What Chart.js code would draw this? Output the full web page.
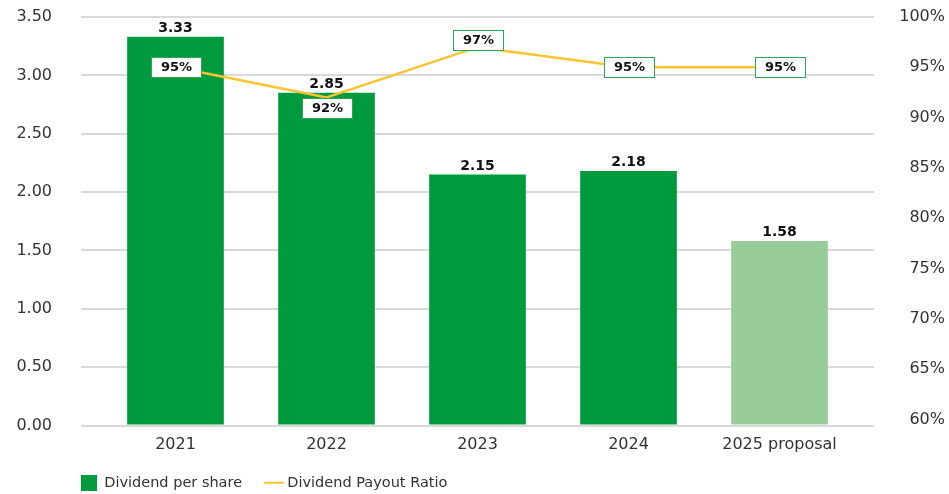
<!DOCTYPE html>
<html>
<head>
<meta charset="utf-8">
<script src="https://cdn.jsdelivr.net/npm/chart.js@4.4.0/dist/chart.umd.min.js"></script>
<style>
  html, body { margin: 0; padding: 0; background: #fff; }
  #wrap { width: 949px; height: 494px; position: relative; }
</style>
</head>
<body>
<div id="wrap"><canvas id="c"></canvas></div>
<script>
const categories = ['2021', '2022', '2023', '2024', '2025 proposal'];
const dividendPerShare = [3.33, 2.85, 2.15, 2.18, 1.58];
const payoutRatio = [95, 92, 97, 95, 95];
const leftTicks = [0, 0.5, 1, 1.5, 2, 2.5, 3, 3.5];
const rightTicks = [60, 65, 70, 75, 80, 85, 90, 95, 100];

const GREEN = '#009a3e';
const LIGHT_GREEN = '#99cc9b';
const YELLOW = '#fdc431';
const GRID = '#d9d9d9';
const FONT = '"DejaVu Sans", sans-serif';

function legendIcon(kind) {
  const cv = document.createElement('canvas');
  if (kind === 'rect') {
    cv.width = 16; cv.height = 16;
    const c = cv.getContext('2d');
    c.fillStyle = GREEN; c.fillRect(0, 0, 16, 16);
  } else {
    cv.width = 24; cv.height = 16;
    const c = cv.getContext('2d');
    c.fillStyle = YELLOW; c.fillRect(4, 7, 20, 2);
  }
  return cv;
}

const labelPlugin = {
  id: 'valueLabels',
  afterLayout(chart) {
    if (chart.legend) {
      chart.legend.left = 59;
    }
  },
  afterDatasetsDraw(chart, args, opts) {
    const ctx = chart.ctx;
    ctx.save();
    const barMeta = chart.getDatasetMeta(0);
    ctx.font = 'bold 14px ' + FONT;
    ctx.fillStyle = '#111';
    ctx.textAlign = 'center';
    ctx.textBaseline = 'alphabetic';
    barMeta.data.forEach((el, i) => {
      ctx.fillText(dividendPerShare[i].toFixed(2), el.x, el.y - 5);
    });
    const lineMeta = chart.getDatasetMeta(1);
    const offsets = opts.lineOffsets;
    lineMeta.data.forEach((el, i) => {
      const w = 51, h = 21;
      const cx = el.x + 1, cy = el.y + offsets[i];
      const x0 = Math.round(cx - w / 2), y0 = Math.round(cy - h / 2);
      ctx.fillStyle = '#fff';
      ctx.fillRect(x0, y0, w, h);
      ctx.strokeStyle = '#2ea455';
      ctx.lineWidth = 1;
      ctx.strokeRect(x0 + 0.5, y0 + 0.5, w - 1, h - 1);
      ctx.fillStyle = '#111';
      ctx.font = 'bold 13px ' + FONT;
      ctx.textBaseline = 'middle';
      ctx.fillText(payoutRatio[i] + '%', x0 + w / 2, y0 + h / 2 + 0.5);
    });
    ctx.restore();
  }
};

function noPad(s) { s.paddingTop = 0; s.paddingBottom = 0; }

new Chart(document.getElementById('c'), {
  data: {
    labels: categories,
    datasets: [
      {
        type: 'bar',
        label: 'Dividend per share',
        data: dividendPerShare,
        backgroundColor: [GREEN, GREEN, GREEN, GREEN, LIGHT_GREEN],
        barPercentage: 0.8,
        categoryPercentage: 0.8,
        yAxisID: 'y',
        pointStyle: legendIcon('rect'),
        order: 2
      },
      {
        type: 'line',
        label: 'Dividend Payout Ratio',
        data: payoutRatio,
        borderColor: YELLOW,
        backgroundColor: YELLOW,
        borderWidth: 2.5,
        pointRadius: 0,
        tension: 0,
        yAxisID: 'y1',
        pointStyle: legendIcon('line'),
        order: 1
      }
    ]
  },
  options: {
    responsive: true,
    maintainAspectRatio: false,
    animation: false,
    layout: { padding: { top: 17, bottom: -6, left: 0, right: 4 } },
    plugins: {
      legend: {
        position: 'bottom',
        align: 'start',
        labels: {
          usePointStyle: true,
          pointStyleWidth: 16,
          boxHeight: 16,
          font: { family: FONT, size: 14.5 },
          color: '#333',
          padding: 22,
          sort: (a, b) => a.datasetIndex - b.datasetIndex
        }
      },
      tooltip: { enabled: false },
      valueLabels: { lineOffsets: [0, 11, -7, 0, 0] }
    },
    scales: {
      x: {
        grid: { display: false, drawTicks: false },
        border: { display: false },
        afterFit(s) { s.height = 28; },
        ticks: { font: { family: FONT, size: 16 }, color: '#333', padding: 10 }
      },
      y: {
        position: 'left',
        min: 0, max: 3.5,
        afterFit(s) { s.width = 100; noPad(s); },
        afterBuildTicks(s) { s.ticks = leftTicks.map(v => ({ value: v })); },
        grid: { color: GRID, lineWidth: 2, tickLength: 19, drawTicks: true },
        border: { display: false },
        ticks: {
          font: { family: FONT, size: 16 }, color: '#333', padding: 29,
          callback: v => Number(v).toFixed(2)
        }
      },
      y2: {
        position: 'right',
        weight: 0,
        min: 0, max: 3.5,
        afterFit(s) { s.width = 19; noPad(s); },
        afterBuildTicks(s) { s.ticks = leftTicks.map(v => ({ value: v })); },
        grid: { color: GRID, lineWidth: 2, tickLength: 19, drawTicks: true, drawOnChartArea: false },
        border: { display: false },
        ticks: { display: false }
      },
      y1: {
        position: 'right',
        weight: 1,
        min: 59.4, max: 100,
        afterFit(s) { s.width = 71; noPad(s); },
        afterBuildTicks(s) { s.ticks = rightTicks.map(v => ({ value: v })); },
        grid: { display: false, drawTicks: false, tickLength: 0 },
        border: { display: false },
        ticks: {
          font: { family: FONT, size: 16 }, color: '#333', padding: 21, crossAlign: 'far',
          callback: v => v + '%'
        }
      }
    }
  },
  plugins: [labelPlugin]
});
</script>
</body>
</html>
